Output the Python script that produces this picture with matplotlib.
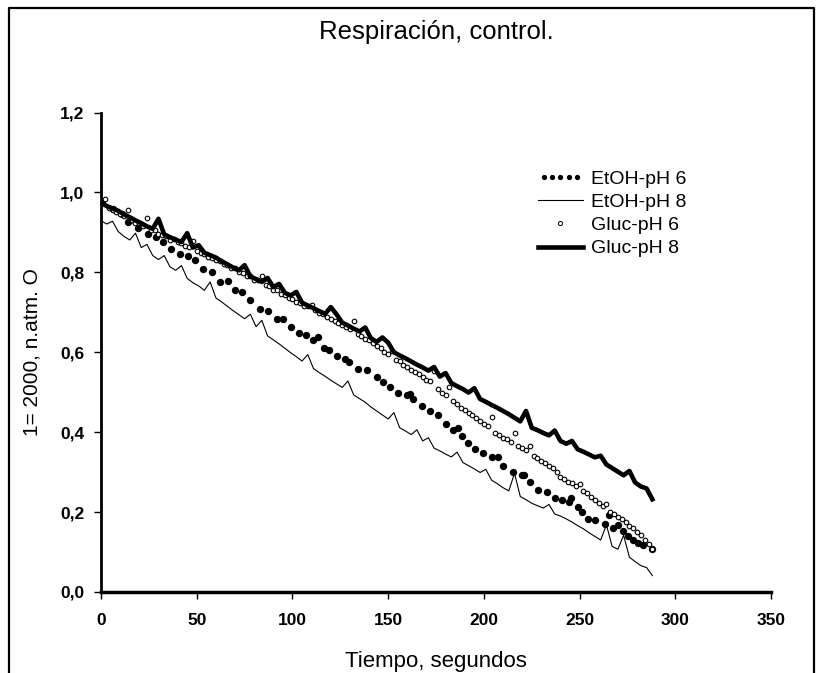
import numpy as np
import matplotlib
matplotlib.use("Agg")
import matplotlib.pyplot as plt
from matplotlib.lines import Line2D
from matplotlib.legend_handler import HandlerLine2D

plt.rcParams['font.family'] = ['Liberation Sans', 'DejaVu Sans']

# EtOH-pH 8 (thin line), one value every 3 s from t = 0
etoh8 = [0.929, 0.921, 0.928, 0.902, 0.890, 0.881, 0.898, 0.862, 0.870, 0.842,
         0.832, 0.842, 0.814, 0.805, 0.817, 0.785, 0.774, 0.766, 0.755, 0.776,
         0.736, 0.726, 0.715, 0.704, 0.694, 0.684, 0.695, 0.664, 0.680, 0.641,
         0.631, 0.621, 0.610, 0.599, 0.589, 0.578, 0.594, 0.559, 0.549, 0.540,
         0.530, 0.521, 0.512, 0.528, 0.493, 0.484, 0.475, 0.463, 0.453, 0.443,
         0.433, 0.449, 0.411, 0.403, 0.394, 0.406, 0.378, 0.386, 0.360, 0.353,
         0.345, 0.338, 0.350, 0.324, 0.316, 0.308, 0.299, 0.307, 0.280, 0.271,
         0.261, 0.253, 0.297, 0.239, 0.231, 0.222, 0.216, 0.210, 0.219, 0.195,
         0.190, 0.183, 0.175, 0.166, 0.158, 0.148, 0.139, 0.130, 0.168, 0.114,
         0.107, 0.142, 0.087, 0.076, 0.066, 0.061, 0.041]

# Gluc-pH 8 (thick line), one value every 3 s from t = 0
gluc8 = [0.974, 0.966, 0.960, 0.954, 0.945, 0.938, 0.930, 0.923, 0.915, 0.909,
         0.934, 0.895, 0.888, 0.882, 0.876, 0.898, 0.862, 0.868, 0.849, 0.843,
         0.837, 0.828, 0.820, 0.812, 0.805, 0.818, 0.790, 0.783, 0.776, 0.786,
         0.763, 0.771, 0.749, 0.742, 0.751, 0.724, 0.717, 0.710, 0.703, 0.696,
         0.713, 0.695, 0.674, 0.667, 0.659, 0.652, 0.662, 0.635, 0.626, 0.637,
         0.624, 0.600, 0.592, 0.585, 0.577, 0.569, 0.562, 0.554, 0.563, 0.539,
         0.548, 0.523, 0.515, 0.508, 0.499, 0.510, 0.483, 0.476, 0.468, 0.461,
         0.453, 0.445, 0.436, 0.427, 0.453, 0.411, 0.405, 0.398, 0.392, 0.404,
         0.378, 0.371, 0.378, 0.357, 0.351, 0.344, 0.337, 0.341, 0.319, 0.310,
         0.301, 0.292, 0.303, 0.274, 0.264, 0.259, 0.232]

# Gluc-pH 6 (open circles), one value every 2 s from t = 0
gluc6 = [0.972, 0.984, 0.960, 0.956, 0.952, 0.945, 0.942, 0.956, 0.932, 0.923,
         0.924, 0.916, 0.937, 0.907, 0.905, 0.897, 0.893, 0.890, 0.882, 0.883,
         0.875, 0.873, 0.865, 0.863, 0.879, 0.854, 0.848, 0.847, 0.838, 0.837,
         0.830, 0.828, 0.821, 0.818, 0.812, 0.810, 0.802, 0.798, 0.792, 0.791,
         0.781, 0.780, 0.791, 0.768, 0.766, 0.757, 0.755, 0.747, 0.744, 0.736,
         0.733, 0.727, 0.724, 0.716, 0.715, 0.719, 0.705, 0.698, 0.695, 0.687,
         0.684, 0.678, 0.672, 0.669, 0.662, 0.658, 0.678, 0.645, 0.641, 0.633,
         0.630, 0.622, 0.615, 0.611, 0.601, 0.596, 0.604, 0.581, 0.577, 0.569,
         0.564, 0.556, 0.551, 0.546, 0.538, 0.531, 0.528, 0.553, 0.508, 0.499,
         0.493, 0.513, 0.477, 0.471, 0.461, 0.456, 0.447, 0.442, 0.435, 0.427,
         0.421, 0.415, 0.437, 0.398, 0.392, 0.386, 0.382, 0.376, 0.398, 0.366,
         0.360, 0.355, 0.366, 0.340, 0.335, 0.327, 0.323, 0.315, 0.310, 0.301,
         0.289, 0.284, 0.276, 0.272, 0.264, 0.269, 0.252, 0.247, 0.238, 0.229,
         0.222, 0.216, 0.219, 0.201, 0.195, 0.188, 0.183, 0.175, 0.166, 0.160,
         0.151, 0.142, 0.130, 0.120, 0.107]

# EtOH-pH 6 (filled dots), irregular sampling
etoh6_t = [0.5, 6.4, 10.8, 14.3, 19.5, 24.7, 28.5, 32.5, 36.6, 41.3,
           45.6, 49.1, 53.5, 57.8, 62.2, 66.5, 70.0, 73.5, 77.8, 83.0,
           87.4, 91.8, 95.3, 99.3, 103.6, 107.1, 110.9, 113.5, 116.7, 119.0,
           123.1, 127.5, 129.3, 134.1, 138.8, 144.0, 147.5, 151.0, 155.3, 159.6,
           161.4, 163.2, 167.9, 171.9, 176.2, 180.1, 184.1, 186.7, 188.4, 191.9,
           195.4, 199.7, 204.1, 207.6, 210.2, 215.4, 219.7, 221.0, 224.1, 228.5,
           232.9, 237.2, 240.7, 244.2, 245.5, 249.4, 251.2, 254.6, 258.1, 263.3,
           265.1, 267.7, 270.3, 272.5, 275.5, 278.1, 280.5, 283.3, 287.7]
etoh6 = [0.974, 0.959, 0.947, 0.925, 0.910, 0.897, 0.888, 0.876, 0.859, 0.845,
         0.840, 0.830, 0.809, 0.802, 0.775, 0.779, 0.755, 0.751, 0.730, 0.709,
         0.704, 0.684, 0.684, 0.663, 0.649, 0.643, 0.631, 0.637, 0.611, 0.605,
         0.590, 0.584, 0.576, 0.557, 0.555, 0.538, 0.526, 0.514, 0.498, 0.492,
         0.496, 0.482, 0.466, 0.454, 0.443, 0.421, 0.405, 0.411, 0.390, 0.374,
         0.359, 0.348, 0.337, 0.338, 0.315, 0.301, 0.293, 0.294, 0.276, 0.255,
         0.249, 0.235, 0.231, 0.226, 0.234, 0.213, 0.201, 0.183, 0.180, 0.169,
         0.192, 0.160, 0.168, 0.153, 0.140, 0.130, 0.122, 0.117, 0.107]

t3 = np.arange(len(etoh8)) * 3
t2 = np.arange(len(gluc6)) * 2

fig = plt.figure(figsize=(8.22, 6.73), dpi=100)
ax = fig.add_axes([0.1229, 0.1204, 0.8151, 0.7124])

ax.plot(etoh6_t, etoh6, 'o', color='black', markersize=5.3, markeredgewidth=0)
ax.plot(t3, etoh8, '-', color='black', linewidth=0.8)
ax.plot(t2, gluc6, 'o', markerfacecolor='white', markeredgecolor='black',
        markersize=3.3, markeredgewidth=0.8)
ax.plot(t3[:len(gluc8)], gluc8, '-', color='black', linewidth=3.3)

ax.set_xlim(0, 350)
ax.set_ylim(0, 1.2)
ax.set_xticks(range(0, 351, 50))
ax.set_yticks([0, 0.2, 0.4, 0.6, 0.8, 1.0, 1.2])
ax.set_yticklabels(['0,0', '0,2', '0,4', '0,6', '0,8', '1,0', '1,2'])
for lab in ax.get_xticklabels() + ax.get_yticklabels():
    lab.set_fontweight('bold')
ax.tick_params(labelsize=12.5, length=5, width=1, direction='out')
ax.tick_params(axis='x', pad=10)
ax.tick_params(axis='y', pad=7)
ax.spines['top'].set_visible(False)
ax.spines['right'].set_visible(False)
ax.spines['left'].set_linewidth(2)
ax.spines['bottom'].set_linewidth(2.5)

ax.set_xlabel('Tiempo, segundos', fontsize=16, labelpad=17)
ax.set_ylabel('1= 2000, n.atm. O', fontsize=15, labelpad=13)
fig.text(0.5304, 0.9525, 'Respiración, control.', fontsize=18.5, ha='center', va='center')

# legend handles drawn separately so their marker sizes match the reference
h_e6 = Line2D([], [], linestyle='none', marker='o', color='black',
              markersize=3.8, markeredgewidth=0)
h_e8 = Line2D([], [], color='black', linewidth=0.8)
h_g6 = Line2D([], [], linestyle='none', marker='o', markerfacecolor='white',
              markeredgecolor='black', markersize=3.0, markeredgewidth=0.7)
h_g8 = Line2D([], [], color='black', linewidth=3.3)
ax.legend([h_e6, h_e8, h_g6, h_g8], ['EtOH-pH 6', 'EtOH-pH 8', 'Gluc-pH 6', 'Gluc-pH 8'],
          handler_map={h_e6: HandlerLine2D(numpoints=5)}, frameon=False,
          fontsize=14, loc='upper left', bbox_to_anchor=(0.6545, 0.7474),
          bbox_transform=fig.transFigure, borderpad=0, borderaxespad=0,
          handlelength=2.3, handletextpad=0.45, labelspacing=0.29)

# frame round the figure (no bottom edge in the reference)
fig.add_artist(Line2D([0.011, 0.011, 0.990, 0.990], [0.0, 0.988, 0.988, 0.0],
                      transform=fig.transFigure, color='black', linewidth=1.6))

fig.savefig('out.png', dpi=100)
